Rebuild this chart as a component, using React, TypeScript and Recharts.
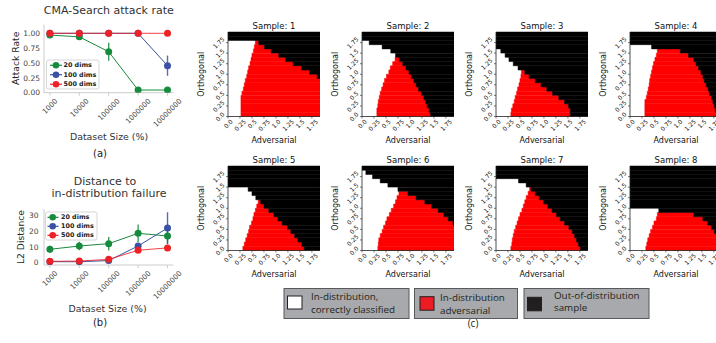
import React from 'react';
import { LineChart, Line, XAxis, YAxis, ErrorBar, BarChart, Bar } from 'recharts';

// ---------- data: panels (a) and (b) ----------
const sizeLabels = ['1000', '10000', '100000', '1000000', '10000000'];
const attack20 = [0.97, 0.94, 0.69, 0.045, 0.045];
const attack20Err = [0.02, 0.02, 0.15, 0, 0];
const attack100 = [1, 1, 1, 1, 0.455];
const attack100Err = [0, 0, 0, 0, 0.17];
const attack500 = [1, 1, 1, 1, 1];
const attack500Err = [0, 0, 0, 0, 0];

const dist20 = [8.5, 10.6, 12.1, 18.7, 17];
const dist20Err = [2.3, 2.7, 4.3, 5.6, 5.3];
const dist100 = [0.6, 0.6, 1.3, 10.6, 22.1];
const dist100Err = [0.3, 0.3, 0.5, 2, 10];
const dist500 = [0.85, 1, 2.1, 7.9, 9.4];
const dist500Err = [0.3, 0.3, 0.5, 1.2, 1.5];

const attackTicks = [0, 0.25, 0.5, 0.75, 1];
const attackTickLabels = ['0.00', '0.25', '0.50', '0.75', '1.00'];
const distTicks = [0, 10, 20, 30];

// ---------- data: panel (c) heatmaps (rows bottom -> top) ----------
const rowCenters = [0.05, 0.15, 0.25, 0.35, 0.45, 0.55, 0.65, 0.75, 0.85, 0.95, 1.05, 1.15, 1.25, 1.35, 1.45, 1.55, 1.65, 1.75, 1.85, 1.95];
const X_MAX = 1.92;
const heatTicks = [0, 0.25, 0.5, 0.75, 1.0, 1.25, 1.5, 1.75];
const heatTickLabels = ['0.0', '0.25', '0.5', '0.75', '1.0', '1.25', '1.5', '1.75'];
const panelTitles = ['Sample: 1', 'Sample: 2', 'Sample: 3', 'Sample: 4', 'Sample: 5', 'Sample: 6', 'Sample: 7', 'Sample: 8'];

// x where the white (in-distribution, correct) region ends in each row
const white1 = [0.27, 0.27, 0.27, 0.27, 0.27, 0.29, 0.32, 0.34, 0.36, 0.39, 0.41, 0.43, 0.46, 0.48, 0.5, 0.53, 0.55, 0.57, 0, 0];
const white2 = [0.31, 0.31, 0.33, 0.34, 0.36, 0.38, 0.41, 0.44, 0.47, 0.51, 0.56, 0.59, 0.64, 0.69, 0.7, 0.6, 0.42, 0.15, 0, 0];
const white3 = [0.31, 0.32, 0.35, 0.38, 0.4, 0.43, 0.45, 0.48, 0.5, 0.52, 0.53, 0.46, 0.36, 0.27, 0.19, 0.1, 0, 0, 0, 0];
const white4 = [0.31, 0.31, 0.31, 0.31, 0.34, 0.36, 0.38, 0.4, 0.41, 0.43, 0.45, 0.47, 0.49, 0.52, 0.55, 0.57, 0.45, 0, 0, 0];
const white5 = [0.31, 0.34, 0.37, 0.4, 0.43, 0.45, 0.49, 0.52, 0.54, 0.57, 0.6, 0.63, 0.58, 0.5, 0.42, 0, 0, 0, 0, 0];
const white6 = [0.33, 0.34, 0.35, 0.38, 0.42, 0.45, 0.49, 0.52, 0.57, 0.61, 0.66, 0.7, 0.73, 0.77, 0.75, 0.54, 0.38, 0.22, 0.08, 0];
const white7 = [0.31, 0.33, 0.34, 0.36, 0.38, 0.41, 0.44, 0.47, 0.5, 0.54, 0.57, 0.6, 0.63, 0.67, 0.7, 0.63, 0.47, 0, 0, 0];
const white8 = [0.33, 0.35, 0.37, 0.4, 0.43, 0.47, 0.5, 0.55, 0.57, 0.6, 0, 0, 0, 0, 0, 0, 0, 0, 0, 0];

// x where the red (in-distribution adversarial) region ends in each row
const red1 = [1.92, 1.92, 1.92, 1.92, 1.92, 1.92, 1.92, 1.92, 1.92, 1.86, 1.7, 1.53, 1.36, 1.2, 1.06, 0.9, 0.76, 0.64, 0, 0];
const red2 = [1.43, 1.4, 1.36, 1.33, 1.29, 1.24, 1.18, 1.13, 1.08, 1.03, 0.98, 0.92, 0.85, 0.78, 0.7, 0.6, 0.42, 0.15, 0, 0];
const red3 = [1.55, 1.55, 1.51, 1.43, 1.31, 1.18, 1.06, 0.94, 0.82, 0.69, 0.6, 0.46, 0.36, 0.27, 0.19, 0.1, 0, 0, 0, 0];
const red4 = [1.81, 1.78, 1.76, 1.73, 1.7, 1.66, 1.63, 1.59, 1.55, 1.52, 1.48, 1.43, 1.38, 1.33, 1.22, 1.05, 0.45, 0, 0, 0];
const red5 = [1.59, 1.54, 1.46, 1.39, 1.31, 1.24, 1.13, 1.04, 0.96, 0.85, 0.75, 0.68, 0.58, 0.5, 0.42, 0, 0, 0, 0, 0];
const red6 = [1.92, 1.92, 1.92, 1.92, 1.92, 1.92, 1.9, 1.8, 1.71, 1.59, 1.45, 1.31, 1.13, 0.96, 0.75, 0.54, 0.38, 0.22, 0.08, 0];
const red7 = [1.76, 1.72, 1.68, 1.64, 1.59, 1.52, 1.43, 1.34, 1.26, 1.17, 1.08, 0.99, 0.9, 0.82, 0.73, 0.63, 0.47, 0, 0, 0];
const red8 = [1.92, 1.9, 1.86, 1.82, 1.76, 1.7, 1.62, 1.52, 1.33, 0.6, 0, 0, 0, 0, 0, 0, 0, 0, 0, 0];

const whiteEnds = [white1, white2, white3, white4, white5, white6, white7, white8];
const redEnds = [red1, red2, red3, red4, red5, red6, red7, red8];

// ---------- styling / layout ----------
const GREEN = '#178b3d';
const BLUE = '#3b51a3';
const RED = '#ec2227';
const FONT = 'DejaVu Sans';
const colLefts = [228, 362, 496, 630];
const rowTops = [32, 166];
const PLOT_H = 84.5;
const PLOT_W = 92;
const ROW_PX = PLOT_H / 20;

const textLen = (s: string, fs: number) =>
  s.split('').reduce((a, c) => a + (c === '.' ? 0.318 : 0.636), 0) * fs;

const SizeTick = (props: any) => {
  const { x, y, payload } = props;
  const label = sizeLabels[Math.round(payload.value)] ?? '';
  const fs = 7.2;
  const h = (textLen(label, fs) + fs * 0.8) * 0.7071;
  const cy = y + h / 2;
  return (
    <text x={x} y={cy} textAnchor="middle" dominantBaseline="central" fontSize={fs} fill="#444"
      fontFamily={FONT} transform={`rotate(-45 ${x} ${cy})`}>{label}</text>
  );
};

const heatLabel = (v: number) => {
  const i = heatTicks.findIndex((t) => Math.abs(t - v) < 1e-6);
  return i >= 0 ? heatTickLabels[i] : String(v);
};

const HeatXTick = (props: any) => {
  const { x, y, payload } = props;
  const label = heatLabel(payload.value);
  const fs = 6;
  const h = (textLen(label, fs) + fs * 0.8) * 0.7071;
  const cy = y + h / 2;
  return (
    <text x={x} y={cy} textAnchor="middle" dominantBaseline="central" fontSize={fs} fill="#111"
      fontFamily={FONT} transform={`rotate(-45 ${x} ${cy})`}>{label}</text>
  );
};

// y ticks: the row category axis gives each row's centre; a tick value t is drawn
// from the row containing it, shifted by the distance between t and the row centre.
const HeatYTick = (props: any) => {
  const { x, y, payload } = props;
  const c = Number(payload.value);
  const t = heatTicks.find((v) => v >= c - 0.05 - 1e-9 && v < c + 0.05 - 1e-9);
  if (t === undefined) return <g />;
  const ty = y + (c - t) * (PLOT_H / 2);
  const label = heatLabel(t);
  const fs = 6;
  const w = (textLen(label, fs) + fs * 0.8) * 0.7071;
  const cx = x - 3 - w / 2;
  return (
    <g>
      <line x1={x - 2} x2={x} y1={ty} y2={ty} stroke="#222" strokeWidth={0.6} />
      <text x={cx} y={ty} textAnchor="middle" dominantBaseline="central" fontSize={fs} fill="#111"
        fontFamily={FONT} transform={`rotate(-45 ${cx} ${ty})`}>{label}</text>
    </g>
  );
};

function HeatPanel({ idx }: { idx: number }) {
  const col = idx % 4;
  const row = Math.floor(idx / 4);
  const left = colLefts[col];
  const top = rowTops[row];
  const data = rowCenters.map((y, i) => ({
    y,
    white: whiteEnds[idx][i],
    red: redEnds[idx][i] - whiteEnds[idx][i],
    black: X_MAX - redEnds[idx][i],
  }));
  const bs = ROW_PX - 0.01;
  return (
    <div style={{ position: 'absolute', left: left - 30, top: top - 5 }}>
      <BarChart layout="vertical" width={30 + PLOT_W + 5} height={5 + PLOT_H + 25} data={data}
        margin={{ top: 5, right: 5, bottom: 0, left: 0 }} barCategoryGap={0} barGap={0}>
        <Bar dataKey="white" stackId="s" fill="#ffffff" stroke="#ffffff" strokeWidth={0.5} barSize={bs} isAnimationActive={false} />
        <Bar dataKey="red" stackId="s" fill="#ff0000" stroke="#ff0000" strokeWidth={0.5} barSize={bs} isAnimationActive={false} />
        <Bar dataKey="black" stackId="s" fill="#000000" stroke="#000000" strokeWidth={0.5} barSize={bs} isAnimationActive={false} />
        <XAxis type="number" domain={[0, X_MAX]} allowDataOverflow ticks={heatTicks} interval={0}
          height={25} tickSize={2} tickMargin={0}
          axisLine={{ stroke: '#222', strokeWidth: 0.8 }} tickLine={{ stroke: '#222', strokeWidth: 0.6 }}
          tick={<HeatXTick />} />
        <YAxis type="category" dataKey="y" reversed interval={0} width={30} tickSize={0} tickMargin={0}
          tickLine={false} axisLine={{ stroke: '#222', strokeWidth: 0.8 }} tick={<HeatYTick />} />
      </BarChart>
    </div>
  );
}

const attackData = sizeLabels.map((_, i) => ({
  x: i, g: attack20[i], ge: attack20Err[i], b: attack100[i], be: attack100Err[i], r: attack500[i], re: attack500Err[i],
}));
const distData = sizeLabels.map((_, i) => ({
  x: i, g: dist20[i], ge: dist20Err[i], b: dist100[i], be: dist100Err[i], r: dist500[i], re: dist500Err[i],
}));

function series() {
  const defs = [
    { k: 'g', e: 'ge', c: GREEN },
    { k: 'b', e: 'be', c: BLUE },
    { k: 'r', e: 're', c: RED },
  ];
  return defs.map((d) => (
    <Line key={d.k} type="linear" dataKey={d.k} stroke={d.c} strokeWidth={1} strokeOpacity={d.k === 'r' ? 0.85 : 1}
      dot={{ r: 3.5, fill: d.c, stroke: d.c, strokeWidth: 0 }} activeDot={false} isAnimationActive={false}>
      <ErrorBar dataKey={d.e} width={0} stroke={d.c} strokeWidth={1.4} strokeOpacity={0.85} direction="y" />
    </Line>
  ));
}

function LegendBox({ x, y, w, h, rows, mx, tx, lx0, lx1 }: any) {
  const items = [
    { c: GREEN, t: '20 dims' },
    { c: BLUE, t: '100 dims' },
    { c: RED, t: '500 dims' },
  ];
  return (
    <g>
      <rect x={x} y={y} width={w} height={h} rx={2} fill="#ffffff" fillOpacity={0.85} stroke="#cccccc" strokeWidth={0.8} />
      {items.map((it, i) => (
        <g key={it.t}>
          <line x1={lx0} x2={lx1} y1={rows[i]} y2={rows[i]} stroke={it.c} strokeWidth={1.2} />
          <circle cx={mx} cy={rows[i]} r={3.3} fill={it.c} />
          <text x={tx} y={rows[i]} dominantBaseline="central" fontSize={6.4} fontWeight="bold" fill="#222" fontFamily={FONT}>{it.t}</text>
        </g>
      ))}
    </g>
  );
}

export default function App() {
  return (
    <div style={{ position: 'absolute', left: 0, top: 0, width: 716, height: 343, overflow: 'hidden', background: '#fff' }}>
      {/* (a) */}
      <div style={{ position: 'absolute', left: 0, top: 0 }}>
        <LineChart width={200} height={150} data={attackData} margin={{ top: 24.4, right: 26.6, bottom: 0, left: 0 }}>
          <XAxis type="number" dataKey="x" domain={[-0.2, 4.2]} allowDataOverflow ticks={[0, 1, 2, 3, 4]} interval={0}
            height={57.3} tickSize={3} tickMargin={2} axisLine={{ stroke: '#cccccc' }} tickLine={{ stroke: '#cccccc' }}
            tick={<SizeTick />} />
          <YAxis type="number" domain={[0, 1.15]} allowDataOverflow ticks={attackTicks} interval={0} width={44}
            tickSize={0} tickMargin={4} axisLine={{ stroke: '#cccccc' }} tickLine={false}
            tickFormatter={(v: number) => attackTickLabels[attackTicks.indexOf(v)] ?? String(v)}
            tick={{ fontSize: 7.5, fill: '#444', fontFamily: FONT }} />
          {series()}
        </LineChart>
      </div>

      {/* (b) */}
      <div style={{ position: 'absolute', left: 0, top: 185 }}>
        <LineChart width={200} height={150} data={distData} margin={{ top: 24.3, right: 26.6, bottom: 0, left: 0 }}>
          <XAxis type="number" dataKey="x" domain={[-0.2, 4.2]} allowDataOverflow ticks={[0, 1, 2, 3, 4]} interval={0}
            height={70} tickSize={3} tickMargin={2} axisLine={{ stroke: '#cccccc' }} tickLine={{ stroke: '#cccccc' }}
            tick={<SizeTick />} />
          <YAxis type="number" domain={[-1.5, 34]} allowDataOverflow ticks={distTicks} interval={0} width={44}
            tickSize={0} tickMargin={5.5} axisLine={{ stroke: '#cccccc' }} tickLine={false}
            tick={{ fontSize: 7.5, fill: '#444', fontFamily: FONT }} />
          {series()}
        </LineChart>
      </div>

      {/* (c) heatmaps */}
      {panelTitles.map((_, i) => <HeatPanel key={i} idx={i} />)}

      {/* text & legends */}
      <svg width={716} height={343} style={{ position: 'absolute', left: 0, top: 0, pointerEvents: 'none' }} fontFamily={FONT}>
        <text x={108.8} y={10} textAnchor="middle" dominantBaseline="central" fontSize={11} fill="#333">CMA-Search attack rate</text>
        <text x={15.5} y={58.3} textAnchor="middle" dominantBaseline="central" fontSize={9.2} fill="#262626" transform="rotate(-90 15.5 58.3)">Attack Rate</text>
        <text x={109} y={136.7} textAnchor="middle" dominantBaseline="central" fontSize={9.4} fill="#333">Dataset Size (%)</text>
        <text x={100} y={153} textAnchor="middle" dominantBaseline="central" fontSize={10} fill="#222">(a)</text>
        <LegendBox x={46.5} y={60} w={52.5} h={29} rows={[65.3, 74.7, 84.3]} mx={56} tx={63.5} lx0={50} lx1={62} />

        <text x={105} y={181.5} textAnchor="middle" dominantBaseline="central" fontSize={11} fill="#333">Distance to</text>
        <text x={109} y={193.5} textAnchor="middle" dominantBaseline="central" fontSize={11} fill="#333">in-distribution failure</text>
        <text x={20} y={237} textAnchor="middle" dominantBaseline="central" fontSize={9.2} fill="#262626" transform="rotate(-90 20 237)">L2 Distance</text>
        <text x={107.5} y={308.3} textAnchor="middle" dominantBaseline="central" fontSize={9.4} fill="#333">Dataset Size (%)</text>
        <text x={100} y={322.7} textAnchor="middle" dominantBaseline="central" fontSize={10} fill="#222">(b)</text>
        <LegendBox x={45.5} y={212} w={51.5} h={28} rows={[217.3, 226.3, 235.3]} mx={52.7} tx={61} lx0={47.5} lx1={58.5} />

        {panelTitles.map((t, i) => {
          const col = i % 4;
          const row = Math.floor(i / 4);
          const cx = colLefts[col] + PLOT_W / 2;
          const top = rowTops[row];
          return (
            <g key={t}>
              <text x={cx} y={top - 6.3} textAnchor="middle" dominantBaseline="central" fontSize={8.5} fill="#111">{t}</text>
              <text x={cx} y={top + 108} textAnchor="middle" dominantBaseline="central" fontSize={8} fill="#111">Adversarial</text>
              <text x={colLefts[col] - 27} y={top + PLOT_H / 2} textAnchor="middle" dominantBaseline="central" fontSize={8} fill="#111"
                transform={`rotate(-90 ${colLefts[col] - 27} ${top + PLOT_H / 2})`}>Orthogonal</text>
            </g>
          );
        })}

        <g fontFamily="Open Sans" fontSize={9.8} fill="#231f20">
          <rect x={284} y={288.5} width={125} height={30} fill="#a7a9ac" stroke="#58595b" strokeWidth={1} />
          <rect x={287.5} y={296} width={14.5} height={13} fill="#ffffff" stroke="#231f20" strokeWidth={1} />
          <text x={311} y={296.7} dominantBaseline="central">In-distribution,</text>
          <text x={311} y={309.2} dominantBaseline="central">correctly classified</text>

          <rect x={414.5} y={288.5} width={103} height={30} fill="#a7a9ac" stroke="#58595b" strokeWidth={1} />
          <rect x={420} y={296.7} width={14} height={13.5} fill="#ed1c24" stroke="#231f20" strokeWidth={1} />
          <text x={440} y={297.3} dominantBaseline="central">In-distribution</text>
          <text x={440} y={310.2} dominantBaseline="central">adversarial</text>

          <rect x={524} y={288.5} width={125} height={30} fill="#a7a9ac" stroke="#58595b" strokeWidth={1} />
          <rect x={527.5} y={297.3} width={14} height={13.5} fill="#231f20" stroke="#231f20" strokeWidth={1} />
          <text x={554} y={295.7} dominantBaseline="central">Out-of-distribution</text>
          <text x={554} y={307.5} dominantBaseline="central">sample</text>

          <text x={473} y={322.7} textAnchor="middle" dominantBaseline="central" fontSize={10}>(c)</text>
        </g>
      </svg>
    </div>
  );
}
